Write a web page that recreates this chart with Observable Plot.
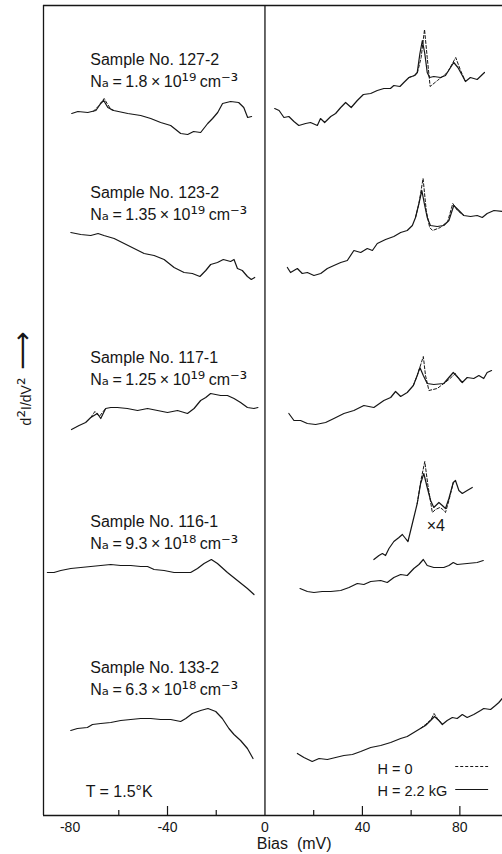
<!DOCTYPE html>
<html><head><meta charset="utf-8">
<script src="https://cdn.jsdelivr.net/npm/d3@7"></script>
<script src="https://cdn.jsdelivr.net/npm/@observablehq/plot@0.6"></script>
<style>html,body{margin:0;padding:0;background:#fff}#chart{width:502px;height:854px;overflow:hidden}</style>
</head><body><div id="chart"></div><script>
// ---- data: [bias (mV), d2I/dV2 (arb., stacked)] ----
const s127L_H22 = [[-79.3,702],[-76.8,704],[-72.7,703],[-69.4,705],[-67.4,712],[-66.2,715],[-64.5,708],[-62.1,705],[-56.3,702],[-51.0,700],[-46.9,697],[-42.8,693],[-38.7,690],[-34.6,682],[-31.7,681],[-29.3,684],[-26.4,683],[-23.5,692],[-21.5,697],[-19.4,703],[-17.4,712],[-14.1,714],[-10.8,713],[-8.7,708],[-7.1,698],[-5.5,699]];
const s127L_H0 = [[-70.5,704],[-68.5,709],[-66.0,717],[-64.8,712],[-63.2,706],[-62.1,705]];
const s127R_H22 = [[4.0,707],[5.8,705],[7.8,698],[9.8,699],[11.9,694],[13.9,690],[16.7,692],[18.7,693],[21.5,690],[22.8,697],[24.5,693],[27.0,699],[29.0,702],[31.1,708],[33.1,713],[35.4,708],[37.9,715],[40.4,721],[43.4,722],[46.1,725],[48.8,727],[51.5,727],[52.9,730],[55.4,729],[57.0,733],[59.1,738],[61.4,740],[62.5,743],[63.6,762],[64.6,775],[65.6,762],[66.6,743],[67.6,738],[69.3,739],[72.1,738],[74.1,740],[75.9,747],[77.5,753],[79.2,748],[81.0,740],[82.3,734],[84.3,738],[87.1,736],[90.1,743]];
const s127R_H0 = [[59.1,738],[61.4,740],[62.5,742],[64.1,758],[65.5,786],[66.6,758],[67.8,729],[70.8,735],[74.9,743],[78.3,758],[80.3,745],[82.3,734]];

const s123L_H22 = [[-79.7,583],[-75.6,581],[-71.5,580],[-68.5,582],[-66.1,580],[-61.9,577],[-57.8,572],[-53.7,567],[-49.6,562],[-45.5,560],[-41.4,556],[-37.3,548],[-33.2,543],[-29.8,542],[-26.7,539],[-24.3,545],[-22.3,551],[-19.5,553],[-17.1,556],[-14.1,554],[-12.7,556],[-11.3,547],[-9.3,545],[-7.2,539],[-5.6,536],[-4.2,538]];
const s123R_H22 = [[9.2,548],[10.5,543],[13.3,547],[15.3,542],[17.4,543],[20.1,540],[22.9,542],[25.6,547],[28.3,550],[31.1,553],[33.8,555],[36.5,565],[39.3,563],[42.0,567],[44.1,565],[46.1,572],[49.5,576],[52.9,579],[55.7,583],[58.4,585],[60.5,590],[61.8,598],[63.2,612],[64.4,625],[65.4,612],[66.6,598],[67.9,590],[70.7,589],[73.4,590],[75.5,595],[77.5,610],[79.6,605],[81.6,600],[84.4,599],[87.1,600],[89.2,598],[91.2,602],[94.0,605],[97.4,604]];
const s123R_H0 = [[61.8,598],[63.2,612],[64.9,637],[66.2,605],[67.6,588],[68.8,585],[72.0,588],[75.0,594],[77.1,612],[79.0,605],[81.6,600]];

const s117L_H22 = [[-79.4,386],[-76.3,390],[-73.6,393],[-71.5,398],[-68.8,402],[-67.4,397],[-65.4,407],[-63.3,408],[-60.6,408],[-56.5,407],[-52.3,405],[-48.2,407],[-44.1,405],[-40.0,403],[-35.9,405],[-31.8,402],[-29.1,407],[-26.4,415],[-24.3,418],[-22.3,422],[-18.2,420],[-15.4,420],[-12.7,417],[-10.0,413],[-7.2,408],[-4.5,407],[-2.9,408]];
const s117L_H0 = [[-71.5,398],[-69.8,404],[-68.0,399],[-66.4,404],[-65.4,407]];
const s117R_H22 = [[9.8,402],[11.9,395],[14.6,395],[17.4,392],[20.8,391],[24.9,393],[28.3,397],[32.4,402],[36.5,405],[40.6,410],[44.7,408],[48.8,415],[51.6,418],[53.6,424],[55.7,419],[58.4,423],[60.9,430],[62.5,440],[63.6,448],[65.0,440],[66.6,432],[69.3,431],[73.4,432],[75.5,438],[77.3,443],[79.6,437],[81.0,433],[83.0,438],[85.7,437],[87.8,440],[89.8,437],[91.2,443],[93.0,445]];
const s117R_H0 = [[60.9,430],[62.5,440],[65.0,459],[65.9,440],[67.3,425],[70.7,427],[73.4,432],[75.5,436],[78.2,442],[80.0,435],[81.0,433]];

const s116L_H22 = [[-89.3,243],[-86.6,243],[-83.8,245],[-79.7,247],[-75.6,248],[-71.5,249],[-67.4,250],[-63.3,251],[-59.2,250],[-55.1,250],[-51.0,249],[-48.2,249],[-45.5,246],[-41.4,245],[-37.3,243],[-33.9,243],[-30.5,243],[-27.7,247],[-25.0,252],[-22.0,256],[-19.5,252],[-15.4,243],[-11.3,235],[-7.2,227],[-4.5,221]];
const s116R_H22 = [[14.4,227],[17.4,224],[20.1,223],[23.5,224],[27.0,224],[31.1,225],[34.5,228],[37.9,232],[40.6,231],[43.4,234],[47.5,235],[50.2,233],[52.9,238],[55.7,241],[58.4,240],[61.1,247],[63.2,251],[65.0,256],[66.6,250],[69.3,248],[73.4,248],[75.5,250],[77.3,253],[78.9,251],[83.0,252],[87.1,253],[89.6,255]];
const s116x4_H22 = [[44.7,256],[46.8,260],[48.2,262],[49.5,260],[50.9,267],[52.9,274],[55.0,278],[56.4,281],[57.7,277],[58.7,274],[60.5,292],[62.5,312],[63.9,332],[65.2,342],[66.6,328],[68.0,315],[69.3,308],[71.4,313],[72.8,310],[74.1,307],[75.5,317],[77.3,333],[78.2,335],[79.6,325],[81.0,322],[83.0,325],[85.1,328]];
const s116x4_H0 = [[62.5,312],[64.0,335],[65.6,354],[66.9,330],[68.7,303],[70.0,306],[71.8,308],[73.0,306],[74.1,303],[75.5,315],[77.3,333]];

const s133L_H22 = [[-79.7,85],[-77.0,87],[-72.9,88],[-70.8,91],[-67.4,92],[-63.3,93],[-59.2,95],[-55.1,96],[-51.0,97],[-46.9,97],[-42.8,96],[-38.7,96],[-34.6,94],[-32.5,97],[-29.8,102],[-26.4,105],[-23.4,107],[-20.2,104],[-17.5,97],[-14.8,87],[-12.7,81],[-10.0,75],[-7.2,67],[-4.9,57]];
const s133R_H22 = [[13.3,62],[16.0,58],[19.4,54],[22.2,57],[25.6,56],[29.0,58],[32.4,60],[35.9,61],[39.3,64],[43.4,68],[47.5,70],[51.6,73],[55.7,77],[58.4,79],[61.1,83],[63.8,87],[65.9,90],[68.0,95],[69.6,99],[71.4,95],[72.8,91],[74.8,95],[76.9,98],[78.9,97],[81.0,101],[83.0,98],[85.7,101],[88.5,105],[89.8,107],[92.6,106],[94.6,110],[96.0,113],[97.4,117]];
const s133R_H0 = [[63.8,87],[65.9,91],[68.2,96],[69.4,102],[70.8,97],[72.8,91]];

const sampleIds = ["127-2", "123-2", "117-1", "116-1", "133-2"];
const acceptorConc = ["1.8 × 10¹⁹", "1.35 × 10¹⁹", "1.25 × 10¹⁹", "9.3 × 10¹⁸", "6.3 × 10¹⁸"];
const majorTicks = [-40, 40, 80];
const minorTicks = [-60, -20, 20, 60];
const tickLabels = [-80, -40, 0, 40, 80];
const legendLabels = ["H = 0", "H = 2.2 kG"];

// ---- build table ----
const rows = [];
function add(series, id, field) { for (const [b, v] of series) rows.push({id, field, bias: b, value: v}); }
add(s127L_H22, "127L", "H22"); add(s127L_H0, "127L", "H0");
add(s127R_H22, "127R", "H22"); add(s127R_H0, "127R", "H0");
add(s123L_H22, "123L", "H22");
add(s123R_H22, "123R", "H22"); add(s123R_H0, "123R", "H0");
add(s117L_H22, "117L", "H22"); add(s117L_H0, "117L", "H0");
add(s117R_H22, "117R", "H22"); add(s117R_H0, "117R", "H0");
add(s116L_H22, "116L", "H22"); add(s116R_H22, "116R", "H22");
add(s116x4_H22, "116x4", "H22"); add(s116x4_H0, "116x4", "H0");
add(s133L_H22, "133L", "H22");
add(s133R_H22, "133R", "H22"); add(s133R_H0, "133R", "H0");

const labels = sampleIds.map((id, i) => ({text: `Sample No. ${id}\nNₐ = ${acceptorConc[i]} cm⁻³`, i}));
const labelTop = [766.4, 633.4, 468.4, 304.4, 158.4];
const xDomain = [-90.9, 97.5];
const ink = "#161616";

const plot = Plot.plot({
  width: 502, height: 854,
  marginLeft: 43, marginRight: 0, marginTop: 5, marginBottom: 39,
  style: {fontFamily: "'Liberation Sans', Arial, sans-serif", color: ink, background: "#fff", overflow: "visible"},
  x: {domain: xDomain, label: null},
  y: {domain: [0, 810], axis: null, label: null},
  marks: [
    Plot.ruleY([0, 810], {stroke: ink, strokeWidth: 1.3}),
    Plot.ruleX([xDomain[0], 0], {stroke: ink, strokeWidth: 1.3}),
    Plot.ruleX(majorTicks, {stroke: ink, strokeWidth: 1.2, insetTop: 801}),
    Plot.ruleX(minorTicks, {stroke: ink, strokeWidth: 1.2, insetTop: 805}),
    Plot.axisX({ticks: tickLabels, tickSize: 0, tickPadding: 7, fontSize: 14, label: null,
      tickFormat: d => d < 0 ? "-" + Math.abs(d) : String(d)}),
    Plot.line(rows.filter(d => d.field === "H0"), {x: "bias", y: "value", z: "id", stroke: ink, strokeWidth: 1, strokeDasharray: "3,2"}),
    Plot.line(rows.filter(d => d.field === "H22"), {x: "bias", y: "value", z: "id", stroke: ink, strokeWidth: 1.2}),
    Plot.text(labels, {x: () => -71.7, y: d => labelTop[d.i], text: "text", textAnchor: "start", lineAnchor: "top", lineHeight: 1.375, fontSize: 16, fill: ink}),
    Plot.text(["T = 1.5°K"], {x: () => -73.6, y: () => 19, text: d => d, textAnchor: "start", lineAnchor: "bottom", fontSize: 16, fill: ink}),
    Plot.text(["×4"], {x: () => 66.4, y: () => 285, text: d => d, textAnchor: "start", lineAnchor: "bottom", fontSize: 16, fill: ink}),
    Plot.text(legendLabels, {x: () => 46.2, y: (d, i) => [42, 20][i], text: d => d, textAnchor: "start", lineAnchor: "bottom", fontSize: 14.5, fill: ink}),
    Plot.ruleY([49], {x1: 78.3, x2: 91.8, stroke: ink, strokeWidth: 1, strokeDasharray: "3,2"}),
    Plot.ruleY([26], {x1: 78.3, x2: 91.8, stroke: ink, strokeWidth: 1.2}),
    Plot.text(["Bias  (mV)"], {frameAnchor: "bottom", x: () => 12, dy: 28, lineAnchor: "middle", text: d => d, fontSize: 16, fill: ink}),
    Plot.text(["d²I/dV²  ⟶"], {frameAnchor: "left", y: () => 437, dx: -17, rotate: -90, textAnchor: "middle", lineAnchor: "middle", text: d => d, fontSize: 14, fill: ink})
  ]
});

// render super/subscript characters and the arrow at a readable size
const special = /([\u00B9\u00B2\u00B3\u2070\u2074-\u2079\u207B\u2090]+|\u27F6)/;
d3.select(plot).selectAll("text, tspan").each(function() {
  if (this.childElementCount) return;
  const t = this.textContent;
  if (!special.test(t)) return;
  const isAxisLabel = t.includes("\u27F6");
  const parts = t.split(special).filter(p => p);
  this.textContent = "";
  if (t.includes("\u2090")) d3.select(this).attr("word-spacing", "-1px");
  for (const p of parts) {
    const s = d3.select(this).append("tspan").text(p);
    if (p === "\u27F6") s.attr("font-family", "'DejaVu Sans', sans-serif").attr("font-size", "1.9em");
    else if (special.test(p)) s.attr("font-family", "'DejaVu Sans', sans-serif").attr("font-size", isAxisLabel ? "1.35em" : "1.15em");
  }
});
document.getElementById("chart").append(plot);
</script></body></html>
